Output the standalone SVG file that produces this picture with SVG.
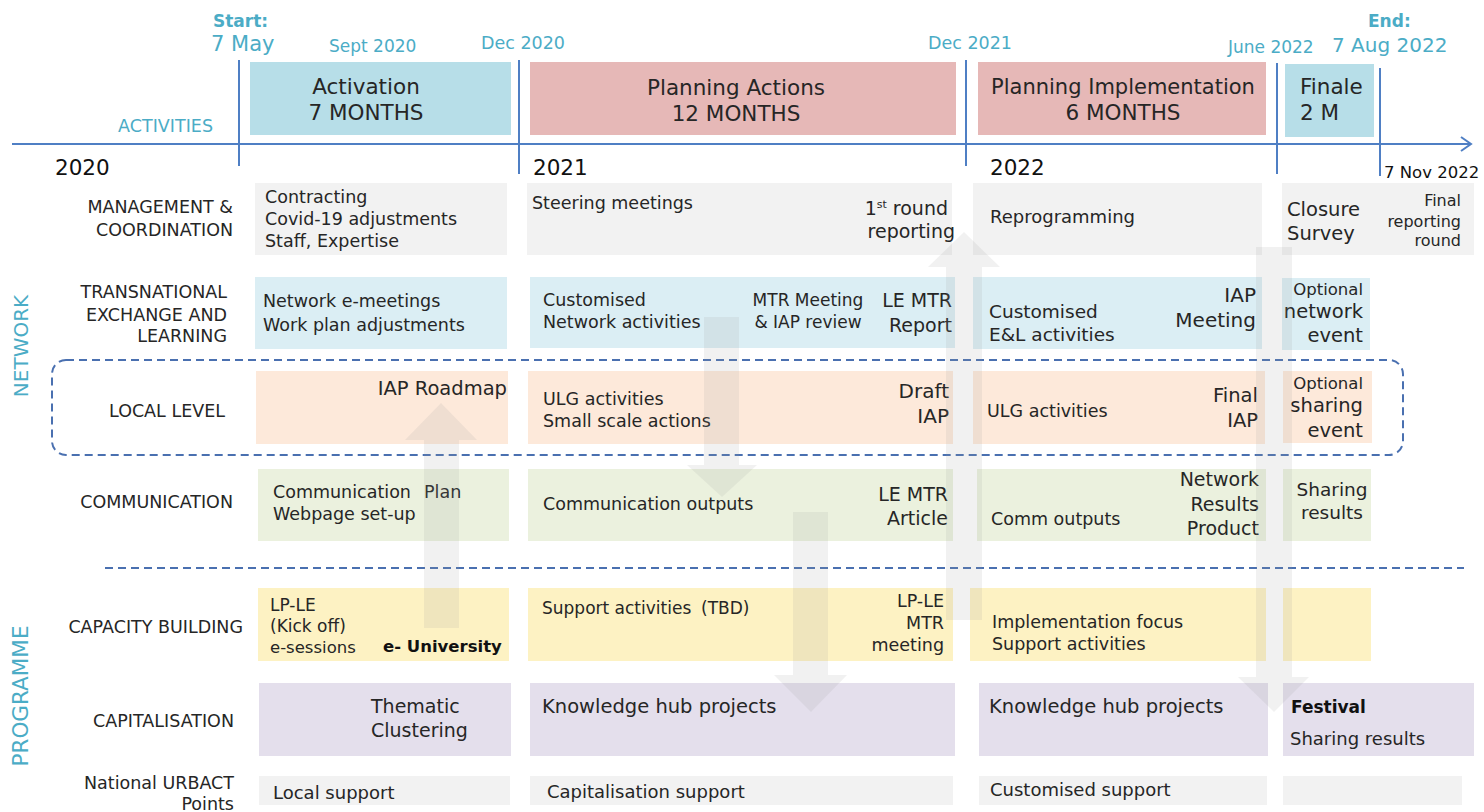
<svg xmlns="http://www.w3.org/2000/svg" width="1484" height="812" viewBox="0 0 1484 812">
<style>
text{font-family:'DejaVu Sans','Liberation Sans',sans-serif;fill:#262626}
.teal{fill:#4BACC6}
.lab{font-size:17.5px;text-anchor:end}
.end{text-anchor:end}
.mid{text-anchor:middle}
.bold{font-weight:bold;fill:#111}
.axis{stroke:#4F7FC4;stroke-width:2;fill:none}
.dash{stroke:#4A70B0;stroke-width:2;fill:none;stroke-dasharray:8 5}
.gray{fill:#F2F2F2}
.blue{fill:#DBEEF4}
.peach{fill:#FDE9DA}
.green{fill:#EBF1DE}
.yellow{fill:#FDF2C3}
.lav{fill:#E4DFEC}
.bigarrow{fill:#9a9a9a;fill-opacity:0.14}
</style>

<!-- Timeline -->
<g id="timeline">
  <line class="axis" x1="12" y1="144" x2="1471" y2="144"/>
  <polyline class="axis" points="1461,137 1471,144 1461,151"/>
  <line class="axis" x1="239" y1="60" x2="239" y2="166"/>
  <line class="axis" x1="519" y1="60" x2="519" y2="174"/>
  <line class="axis" x1="966" y1="60" x2="966" y2="166"/>
  <line class="axis" x1="1277" y1="63" x2="1277" y2="174"/>
  <line class="axis" x1="1380" y1="68" x2="1380" y2="176"/>
  <text class="teal bold" x="213" y="27" font-size="17" style="fill:#4BACC6">Start:</text>
  <text class="teal" x="211" y="51" font-size="21">7 May</text>
  <text class="teal" x="329" y="52" font-size="17">Sept 2020</text>
  <text class="teal" x="481" y="49" font-size="17.5">Dec 2020</text>
  <text class="teal" x="928" y="49" font-size="17.5">Dec 2021</text>
  <text class="teal" x="1228" y="53" font-size="17">June 2022</text>
  <text class="teal bold" x="1368" y="27" font-size="17" style="fill:#4BACC6">End:</text>
  <text class="teal" x="1332" y="52" font-size="20">7 Aug 2022</text>
  <text class="teal end" x="213" y="132" font-size="17.5">ACTIVITIES</text>
  <text x="55" y="175" font-size="21.5" style="fill:#111">2020</text>
  <text x="533" y="175" font-size="21.5" style="fill:#111">2021</text>
  <text x="990" y="175" font-size="21.5" style="fill:#111">2022</text>
  <text x="1384" y="178" font-size="16.5" style="fill:#111">7 Nov 2022</text>
</g>

<!-- Phases -->
<g id="phase-activation">
  <rect x="250" y="62" width="261" height="73" fill="#B7DEE8"/>
  <text x="366" y="94" font-size="21.5" class="mid">Activation</text>
  <text x="366" y="120" font-size="21.5" class="mid">7 MONTHS</text>
</g>
<g id="phase-planning-actions">
  <rect x="530" y="62" width="426" height="73" fill="#E6B8B7"/>
  <text x="736" y="95" font-size="21.5" class="mid">Planning Actions</text>
  <text x="736" y="121" font-size="21.5" class="mid">12 MONTHS</text>
</g>
<g id="phase-planning-implementation">
  <rect x="978" y="62" width="288" height="73" fill="#E6B8B7"/>
  <text x="1123" y="94" font-size="21" class="mid">Planning Implementation</text>
  <text x="1123" y="120" font-size="21.5" class="mid">6 MONTHS</text>
</g>
<g id="phase-finale">
  <rect x="1285" y="64" width="89" height="73" fill="#B7DEE8"/>
  <text x="1300" y="94" font-size="21.5">Finale</text>
  <text x="1300" y="120" font-size="21.5">2 M</text>
</g>

<!-- Side group labels -->
<g id="group-network">
  <text class="teal mid" transform="translate(28,346) rotate(-90)" font-size="20">NETWORK</text>
</g>
<g id="group-programme">
  <text class="teal mid" transform="translate(28,696) rotate(-90)" font-size="21.5">PROGRAMME</text>
</g>

<!-- Row labels -->
<g id="label-management"><text class="lab" x="233" y="213">MANAGEMENT &amp;</text><text class="lab" x="233" y="236">COORDINATION</text></g>
<g id="label-transnational"><text class="lab" x="227" y="298">TRANSNATIONAL</text><text class="lab" x="227" y="321">EXCHANGE AND</text><text class="lab" x="227" y="342">LEARNING</text></g>
<g id="label-local"><text class="lab" x="225" y="417">LOCAL LEVEL</text></g>
<g id="label-communication"><text class="lab" x="233" y="508">COMMUNICATION</text></g>
<g id="label-capacity"><text class="lab" x="243" y="633">CAPACITY BUILDING</text></g>
<g id="label-capitalisation"><text class="lab" x="234" y="727">CAPITALISATION</text></g>
<g id="label-national"><text class="lab" x="234" y="789">National URBACT</text><text class="lab" x="234" y="810">Points</text></g>

<!-- Local level frame and separator -->
<g id="local-frame">
  <rect class="dash" x="52" y="360" width="1351" height="95" rx="14"/>
</g>
<g id="separator">
  <line class="dash" x1="105" y1="568" x2="1464" y2="568"/>
</g>

<!-- Row 1: Management -->
<g id="mgmt-1"><rect class="gray" x="255" y="183" width="252" height="72"/>
  <text x="265" y="203" font-size="17.5">Contracting</text>
  <text x="265" y="225" font-size="17.5">Covid-19 adjustments</text>
  <text x="265" y="247" font-size="17.5">Staff, Expertise</text></g>
<g id="mgmt-2"><rect class="gray" x="527" y="183" width="425" height="72"/>
  <text x="532" y="209" font-size="17.5">Steering meetings</text>
  <text class="end" x="948" y="215" font-size="19">1<tspan dy="-7" font-size="11">st</tspan><tspan dy="7"> round</tspan></text>
  <text class="end" x="955" y="238" font-size="19">reporting</text></g>
<g id="mgmt-3"><rect class="gray" x="973" y="183" width="289" height="72"/>
  <text x="990" y="223" font-size="18">Reprogramming</text></g>
<g id="mgmt-4"><rect class="gray" x="1282" y="183" width="192" height="72"/>
  <text x="1287" y="216" font-size="19.5">Closure</text>
  <text x="1287" y="240" font-size="19.5">Survey</text>
  <text class="end" x="1461" y="206" font-size="16">Final</text>
  <text class="end" x="1461" y="227" font-size="16">reporting</text>
  <text class="end" x="1461" y="246" font-size="16">round</text></g>

<!-- Row 2: Transnational -->
<g id="tel-1"><rect class="blue" x="255" y="277" width="252" height="72"/>
  <text x="263" y="307" font-size="17.5">Network e-meetings</text>
  <text x="263" y="331" font-size="17.5">Work plan adjustments</text></g>
<g id="tel-2"><rect class="blue" x="530" y="277" width="425" height="71"/>
  <text x="543" y="306" font-size="17.5">Customised</text>
  <text x="543" y="328" font-size="17.5">Network activities</text>
  <text class="mid" x="808" y="306" font-size="17">MTR Meeting</text>
  <text class="mid" x="808" y="328" font-size="17">&amp; IAP review</text>
  <text class="end" x="952" y="307" font-size="19">LE MTR</text>
  <text class="end" x="952" y="332" font-size="19">Report</text></g>
<g id="tel-3"><rect class="blue" x="973" y="277" width="289" height="72"/>
  <text x="989" y="318" font-size="18.5">Customised</text>
  <text x="989" y="341" font-size="18.5">E&amp;L activities</text>
  <text class="end" x="1256" y="302" font-size="20">IAP</text>
  <text class="end" x="1256" y="327" font-size="20">Meeting</text></g>
<g id="tel-4"><rect class="blue" x="1282" y="278" width="88" height="72"/>
  <text class="end" x="1363" y="295" font-size="16.5">Optional</text>
  <text class="end" x="1363" y="318" font-size="19.5">network</text>
  <text class="end" x="1363" y="342" font-size="19.5">event</text></g>

<!-- Row 3: Local -->
<g id="local-1"><rect class="peach" x="256" y="371" width="252" height="73"/>
  <text class="end" x="507" y="395" font-size="19.5">IAP Roadmap</text></g>
<g id="local-2"><rect class="peach" x="528" y="371" width="425" height="73"/>
  <text x="543" y="405" font-size="17.5">ULG activities</text>
  <text x="543" y="427" font-size="17.5">Small scale actions</text>
  <text class="end" x="949" y="398" font-size="20">Draft</text>
  <text class="end" x="949" y="423" font-size="20">IAP</text></g>
<g id="local-3"><rect class="peach" x="973" y="371" width="292" height="73"/>
  <text x="987" y="417" font-size="17.5">ULG activities</text>
  <text class="end" x="1258" y="402" font-size="19.5">Final</text>
  <text class="end" x="1258" y="427" font-size="19.5">IAP</text></g>
<g id="local-4"><rect class="peach" x="1283" y="371" width="89" height="72"/>
  <text class="end" x="1363" y="389" font-size="16.5">Optional</text>
  <text class="end" x="1363" y="412" font-size="19.5">sharing</text>
  <text class="end" x="1363" y="437" font-size="19.5">event</text></g>

<!-- Row 4: Communication -->
<g id="comm-1"><rect class="green" x="258" y="469" width="251" height="72"/>
  <text x="273" y="498" font-size="17.5">Communication<tspan x="424">Plan</tspan></text>
  <text x="273" y="520" font-size="17.5">Webpage set-up</text></g>
<g id="comm-2"><rect class="green" x="528" y="469" width="425" height="72"/>
  <text x="543" y="510" font-size="17.5">Communication outputs</text>
  <text class="end" x="948" y="501" font-size="19">LE MTR</text>
  <text class="end" x="948" y="525" font-size="19">Article</text></g>
<g id="comm-3"><rect class="green" x="977" y="469" width="289" height="72"/>
  <text x="991" y="525" font-size="17.5">Comm outputs</text>
  <text class="end" x="1259" y="486" font-size="19">Network</text>
  <text class="end" x="1259" y="511" font-size="19">Results</text>
  <text class="end" x="1259" y="535" font-size="19">Product</text></g>
<g id="comm-4"><rect class="green" x="1283" y="469" width="88" height="72"/>
  <text class="mid" x="1332" y="496" font-size="18.5">Sharing</text>
  <text class="mid" x="1332" y="519" font-size="18.5">results</text></g>

<!-- Row 5: Capacity building -->
<g id="cap-1"><rect class="yellow" x="258" y="588" width="251" height="73"/>
  <text x="270" y="611" font-size="17">LP-LE</text>
  <text x="270" y="632" font-size="17">(Kick off)</text>
  <text x="270" y="653" font-size="16.5">e-sessions</text>
  <text class="bold" x="383" y="652" font-size="16.5">e- University</text></g>
<g id="cap-2"><rect class="yellow" x="528" y="588" width="425" height="73"/>
  <text x="542" y="614" font-size="17">Support activities<tspan x="701">(TBD)</tspan></text>
  <text class="end" x="944" y="607" font-size="17.5">LP-LE</text>
  <text class="end" x="944" y="629" font-size="17.5">MTR</text>
  <text class="end" x="944" y="651" font-size="17.5">meeting</text></g>
<g id="cap-3"><rect class="yellow" x="970" y="588" width="296" height="73"/>
  <text x="992" y="628" font-size="17.5">Implementation focus</text>
  <text x="992" y="650" font-size="17.5">Support activities</text></g>
<g id="cap-4"><rect class="yellow" x="1283" y="588" width="88" height="73"/></g>

<!-- Row 6: Capitalisation -->
<g id="capi-1"><rect class="lav" x="259" y="683" width="252" height="73"/>
  <text x="371" y="713" font-size="19">Thematic</text>
  <text x="371" y="737" font-size="19">Clustering</text></g>
<g id="capi-2"><rect class="lav" x="530" y="683" width="425" height="73"/>
  <text x="542" y="713" font-size="19.5">Knowledge hub projects</text></g>
<g id="capi-3"><rect class="lav" x="979" y="683" width="289" height="73"/>
  <text x="989" y="713" font-size="19.5">Knowledge hub projects</text></g>
<g id="capi-4"><rect class="lav" x="1283" y="683" width="191" height="73"/>
  <text class="bold" x="1291" y="713" font-size="17">Festival</text>
  <text x="1290" y="745" font-size="18">Sharing results</text></g>

<!-- Row 7: National URBACT Points -->
<g id="nat-1"><rect class="gray" x="259" y="776" width="251" height="29"/>
  <text x="273" y="799" font-size="18">Local support</text></g>
<g id="nat-2"><rect class="gray" x="530" y="776" width="423" height="29"/>
  <text x="547" y="798" font-size="18">Capitalisation support</text></g>
<g id="nat-3"><rect class="gray" x="979" y="776" width="288" height="29"/>
  <text x="990" y="796" font-size="18">Customised support</text></g>
<g id="nat-4"><rect class="gray" x="1283" y="776" width="179" height="29"/></g>

<!-- Big translucent arrows -->
<g id="connectors">
  <polygon class="bigarrow" points="424,628 459,628 459,440 477,440 441,403 405,440 424,440"/>
  <polygon class="bigarrow" points="704,317 739,317 739,465 757,465 722,497 687,465 704,465"/>
  <polygon class="bigarrow" points="793,512 828,512 828,675 847,675 811,712 774,675 793,675"/>
  <polygon class="bigarrow" points="946,620 982,620 982,267 1000,267 964,232 928,267 946,267"/>
  <polygon class="bigarrow" points="1256,247 1292,247 1292,677 1309,677 1274,712 1238,677 1256,677"/>
</g>
</svg>
